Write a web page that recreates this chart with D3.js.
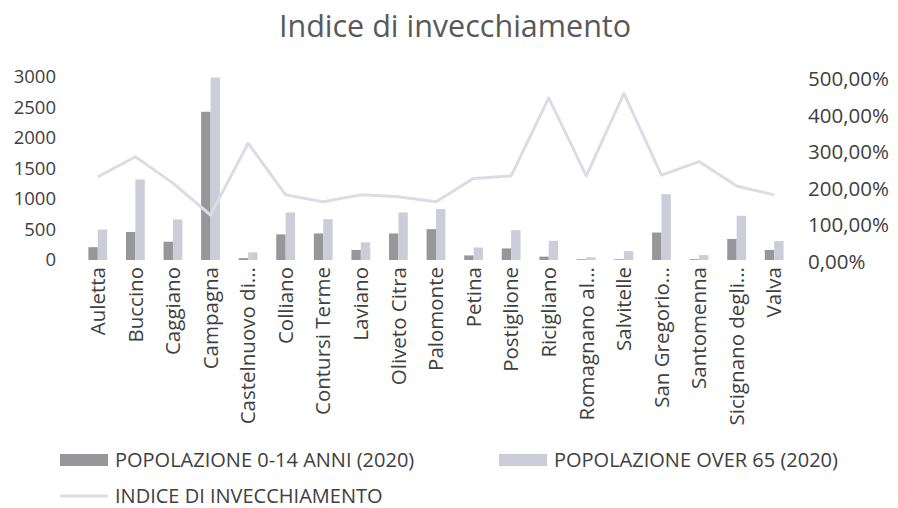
<!DOCTYPE html>
<html><head><meta charset="utf-8">
<script src="https://cdn.jsdelivr.net/npm/d3@7"></script>
<style>body{margin:0;background:#fff}svg{display:block}text{font-family:"Open Sans",sans-serif}</style>
</head><body><svg id="c" width="898" height="508"></svg>
<script>
const categories = ["Auletta","Buccino","Caggiano","Campagna","Castelnuovo di...","Colliano","Contursi Terme","Laviano","Oliveto Citra","Palomonte","Petina","Postiglione","Ricigliano","Romagnano al...","Salvitelle","San Gregorio...","Santomenna","Sicignano degli...","Valva"];
const pop014 = [210,460,300,2430,30,420,435,165,435,505,75,190,55,12,12,450,12,345,165];
const popOver65 = [500,1320,665,2990,125,780,670,290,780,835,205,490,315,45,145,1080,80,725,310];
const indice = [2.27,2.82,2.10,1.23,3.19,1.78,1.59,1.78,1.73,1.59,2.23,2.30,4.43,2.30,4.55,2.32,2.69,2.02,1.78];
const leftTicks = [0,500,1000,1500,2000,2500,3000];
const rightTicks = [0,1,2,3,4,5];
const seriesNames = ["POPOLAZIONE 0-14 ANNI (2020)","POPOLAZIONE OVER 65 (2020)","INDICE DI INVECCHIAMENTO"];
const colors = ["#96969b","#cdcdda","#dcdce6"];

const svg = d3.select("#c");
const x = d3.scaleBand().domain(categories).range([79,793]);
const x1 = d3.scaleBand().domain([0,1]).range([x.bandwidth()*0.25, x.bandwidth()*0.75]);
const yL = d3.scaleLinear().domain([0,3000]).range([260,77]);
const yR = d3.scaleLinear().domain([0,5]).range([260,77]);

svg.append("text").attr("x",455).attr("y",37).attr("text-anchor","middle")
  .attr("font-size",30.5).attr("fill","#595959").text("Indice di invecchiamento");

// left axis
const gL = svg.append("g").attr("transform","translate(60,0)")
  .call(d3.axisLeft(yL).tickValues(leftTicks).tickSize(0).tickPadding(4).tickFormat(d3.format("d")));
gL.select(".domain").remove();
gL.selectAll("text").attr("font-size",18.5).attr("fill","#404040").style("font-family","Open Sans");

// right axis
const fmtPct = d => d3.format(".2f")(d*100).replace(".",",")+"%";
const gR = svg.append("g").attr("transform","translate(804,2)")
  .call(d3.axisRight(yR).tickValues(rightTicks).tickSize(0).tickPadding(4).tickFormat(fmtPct));
gR.select(".domain").remove();
gR.selectAll("text").attr("font-size",20.5).attr("fill","#404040").style("font-family","Open Sans");

// bars
const series = [pop014, popOver65];
series.forEach((vals,si)=>{
  svg.append("g").selectAll("rect").data(vals).join("rect")
    .attr("x",(d,i)=>x(categories[i])+x1(si))
    .attr("width",x1.bandwidth())
    .attr("y",d=>yL(d))
    .attr("height",d=>yL(0)-yL(d))
    .attr("fill",colors[si]);
});

// line
const line = d3.line().x((d,i)=>x(categories[i])+x.bandwidth()/2).y(d=>yR(d));
svg.append("path").datum(indice).attr("d",line).attr("fill","none")
  .attr("stroke",colors[2]).attr("stroke-width",3).attr("stroke-linejoin","round");

// category labels
const gX = svg.append("g").attr("transform","translate(0,264)")
  .call(d3.axisBottom(x).tickSize(0).tickPadding(0));
gX.select(".domain").remove();
gX.selectAll("text").attr("font-size",20.5).attr("fill","#404040").style("font-family","Open Sans")
  .attr("text-anchor","end").attr("dy","0.35em").attr("transform","translate(0,3) rotate(-90)").attr("x",0).attr("y",0);

// legend
const leg = [
  {x:60,y:460,i:0,type:"rect"},
  {x:499,y:460,i:1,type:"rect"},
  {x:60,y:496,i:2,type:"line"}
];
leg.forEach(l=>{
  if(l.type==="rect"){
    svg.append("rect").attr("x",l.x).attr("y",l.y-6).attr("width",48).attr("height",12).attr("fill",colors[l.i]);
  } else {
    svg.append("line").attr("x1",l.x).attr("x2",l.x+48).attr("y1",l.y).attr("y2",l.y).attr("stroke",colors[2]).attr("stroke-width",3);
  }
  svg.append("text").attr("x",l.x+55).attr("y",l.y).attr("dy","0.35em").attr("font-size",20)
    .attr("fill","#404040").text(seriesNames[l.i]);
});
</script></body></html>
